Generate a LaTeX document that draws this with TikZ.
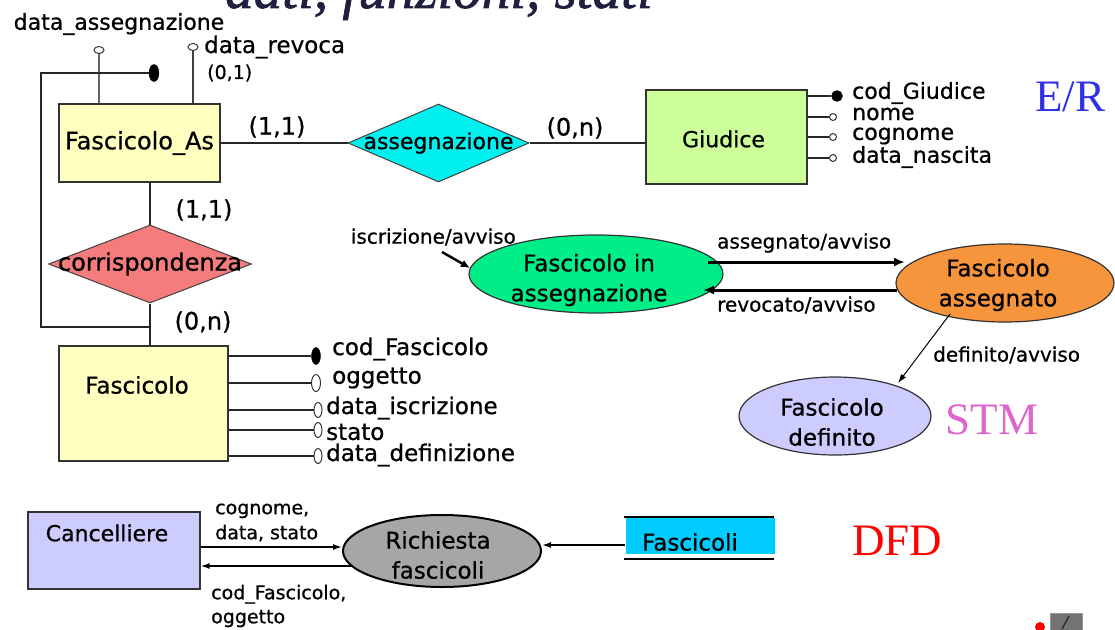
\documentclass[tikz,border=0pt]{standalone}
\usepackage{fontspec}
\setmainfont{DejaVu Sans}[FakeBold=0.7]
\newfontfamily\bigserif{Liberation Serif}
\newfontfamily\titleserif{Liberation Serif Italic}[FakeBold=1.2]
\usetikzlibrary{shapes.geometric,arrows.meta}
\newcommand\fsz[2]{\fontsize{#1}{#2}\selectfont}
\definecolor{yel}{HTML}{FFFFBF}
\definecolor{grn}{HTML}{CCFF99}
\definecolor{cyanER}{HTML}{00F0F0}
\definecolor{salmon}{HTML}{F47C7C}
\definecolor{stgreen}{HTML}{00EE88}
\definecolor{orng}{HTML}{F7953C}
\definecolor{lav}{HTML}{CCCCFF}
\definecolor{dfdgray}{HTML}{A6A6A6}
\definecolor{storecyan}{HTML}{00CCFF}
\definecolor{erblue}{HTML}{3030E6}
\definecolor{stmpink}{HTML}{DD66CC}
\definecolor{titlecol}{HTML}{1F1F3F}
\begin{document}
\begin{tikzpicture}[x=1pt,y=-1pt,
  box/.style={draw=black!80,line width=1.3pt,rectangle,inner sep=0pt},
  dia/.style={diamond,draw=black!75,line width=1pt,inner sep=0pt},
  ell/.style={ellipse,draw=black!80,line width=1.2pt,inner sep=0pt},
  lbl/.style={inner sep=0pt,font=\fsz{22}{22}},
  card/.style={inner sep=0pt,font=\fsz{24}{24}},
  erl/.style={line width=1.3pt,draw=black!85},
  attro/.style={ellipse,draw=black!80,fill=white,line width=1pt,inner sep=0pt},
  attrf/.style={ellipse,fill=black,draw=black,inner sep=0pt},
  thickarr/.style={line width=3pt,-{Latex[length=11pt,width=9pt]}},
  thinarr/.style={line width=1pt,-{Latex[length=9pt,width=6pt]}},
  dfdarr/.style={line width=1.5pt,-{Latex[length=9pt,width=6pt]}},
  bigtxt/.style={inner sep=0pt,font=\bigserif\fsz{45}{45}}
]
\useasboundingbox (0,0) rectangle (1115,629);

% title (cut at top)
\node[anchor=base west,inner sep=0pt,font=\titleserif\fsz{57}{57},text=titlecol] (title) at (225,8) {dati, funzioni, stati};

% ===== E/R =====
\node[box,fill=yel,minimum width=161pt,minimum height=78pt,
  label={[card]center:Fascicolo\_As}] (FA) at (139.5,143) {};
\node[dia,fill=cyanER,minimum width=181pt,minimum height=78pt,
  label={[lbl]center:assegnazione}] (AS) at (438.5,143) {};
\node[box,fill=grn,minimum width=161pt,minimum height=94pt,
  label={[lbl,xshift=-3pt,yshift=-2pt]center:Giudice}] (GI) at (726.5,137) {};
\node[dia,fill=salmon,minimum width=203pt,minimum height=78pt,
  label={[card]center:corrispondenza}] (CO) at (150,264) {};
\node[box,fill=yel,minimum width=169pt,minimum height=115pt] (FS) at (143.5,403.5) {};
\node[lbl,font=\fsz{23}{23}] (FSt) at (137,385) {Fascicolo};

\draw[erl] (FA.east) -- (AS.west);
\draw[erl] (AS.east) -- (AS.east -| GI.west);
\draw[erl] (CO.north |- FA.south) -- (CO.north);
\draw[erl] (CO.south) -- (CO.south |- FS.north);

\node[card] (c1) at (277,127) {(1,1)};
\node[card] (c2) at (575,128) {(0,n)};
\node[card] (c3) at (204,210) {(1,1)};
\node[card] (c4) at (203,322) {(0,n)};

% Fascicolo_As attributes
\node[attro,minimum width=10pt,minimum height=7pt] (aDA) at (99,50) {};
\draw[erl,draw=black!60] (aDA) -- (aDA |- FA.north);
\node[lbl] (tDA) at (119,24) {data\_assegnazione};
\node[attro,minimum width=10pt,minimum height=7pt] (aDR) at (193,47) {};
\draw[erl,draw=black!75] (aDR) -- (aDR |- FA.north);
\node[lbl,anchor=west,font=\fsz{23}{23}] (tDR) at (204,47) {data\_revoca};
\node[inner sep=0pt,anchor=west,font=\fsz{19}{19}] (c5) at (207,73) {(0,1)};

% external identifier
\node[attrf,minimum width=10pt,minimum height=17pt] (IDd) at (154,73) {};
\coordinate (idk) at (41,73);
\coordinate (idj) at (150,327);
\draw[erl] (IDd.west) -- (idk) |- (idj);

% Fascicolo attributes
\node[attrf,minimum width=9pt,minimum height=17pt] (f1) at (316,356) {};
\node[attro,minimum width=9pt,minimum height=17pt] (f2) at (316,383) {};
\node[attro,minimum width=8pt,minimum height=15pt] (f3) at (318,410) {};
\node[attro,minimum width=8pt,minimum height=15pt] (f4) at (318,430) {};
\node[attro,minimum width=8pt,minimum height=15pt] (f5) at (318,456) {};
\foreach \n in {f1,f2,f3,f4,f5}{\draw[erl] (FS.east |- \n) -- (\n.west);}
\node[lbl,anchor=west,font=\fsz{23}{23}] (tf1) at (332,349) {cod\_Fascicolo};
\node[lbl,anchor=west,font=\fsz{23}{23}] (tf2) at (332,378) {oggetto};
\node[lbl,anchor=west,font=\fsz{23}{23}] (tf3) at (326,408) {data\_iscrizione};
\node[lbl,anchor=west,font=\fsz{23}{23}] (tf4) at (326,432) {stato};
\node[lbl,anchor=west,font=\fsz{23}{23}] (tf5) at (326,455) {data\_definizione};

% Giudice attributes
\node[attrf,circle,minimum size=11pt] (g1) at (837,96) {};
\node[attro,circle,minimum size=7pt] (g2) at (833,117) {};
\node[attro,circle,minimum size=7pt] (g3) at (833,137) {};
\node[attro,circle,minimum size=7pt] (g4) at (833,158) {};
\foreach \n in {g1,g2,g3,g4}{\draw[erl] (GI.east |- \n) -- (\n.west);}
\node[lbl,anchor=west] (tg1) at (852,93) {cod\_Giudice};
\node[lbl,anchor=west] (tg2) at (852,114) {nome};
\node[lbl,anchor=west] (tg3) at (852,136) {cognome};
\node[lbl,anchor=west] (tg4) at (852,157) {data\_nascita};

\node[bigtxt,text=erblue] (ER) at (1070,97) {E/R};

% ===== STM =====
\node[ell,fill=stgreen,minimum width=254pt,minimum height=78pt,
  label={[inner sep=0pt,align=center,font=\fsz{23}{30},xshift=-7pt,yshift=-6pt]center:Fascicolo in\\assegnazione}] (SI) at (596,274) {};
\node[ell,fill=orng,minimum width=218pt,minimum height=78pt,
  label={[inner sep=0pt,align=center,font=\fsz{23}{30},xshift=-7pt,yshift=-2pt]center:Fascicolo\\assegnato}] (SA) at (1005,283) {};
\node[ell,fill=lav,minimum width=192pt,minimum height=78pt,
  label={[inner sep=0pt,align=center,font=\fsz{23}{30},xshift=-3pt,yshift=-6pt]center:Fascicolo\\definito}] (SD) at (835,416) {};

\coordinate (p1) at (708,262); \coordinate (p2) at (905,262);
\coordinate (p3) at (897,290); \coordinate (p4) at (703,290);
\coordinate (p5) at (950,314); \coordinate (p6) at (898,383);
\coordinate (p7) at (442,252); \coordinate (p8) at (470,268);
\draw[thickarr] (p1) -- (p2);
\draw[thickarr] (p3) -- (p4);
\draw[thinarr] (p5) -- (p6);
\draw[line width=2.5pt,-{Latex[length=9pt,width=8pt]}] (p7) -- (p8);

\node[inner sep=0pt,anchor=west,font=\fsz{20}{20}] (l1) at (717,243) {assegnato/avviso};
\node[inner sep=0pt,anchor=west,font=\fsz{20}{20}] (l2) at (717,305) {revocato/avviso};
\node[inner sep=0pt,anchor=west,font=\fsz{20}{20}] (l3) at (933,355) {definito/avviso};
\node[inner sep=0pt,anchor=east,font=\fsz{20}{20}] (l4) at (516,237) {iscrizione/avviso};

\node[bigtxt,text=stmpink] (STM) at (992,420) {STM};

% ===== DFD =====
\node[box,fill=lav,minimum width=172pt,minimum height=77pt] (CA) at (114,550.5) {};
\node[lbl,font=\fsz{22}{22}] (CAt) at (107,533) {Cancelliere};
\node[ellipse,draw=black,line width=2pt,inner sep=0pt,fill=dfdgray,minimum width=198pt,minimum height=72pt,
  label={[inner sep=0pt,align=center,font=\fsz{23}{30},xshift=-4pt,yshift=-4pt]center:Richiesta\\fascicoli}] (RF) at (442,551) {};
\coordinate (q1) at (342,547);
\coordinate (q2) at (353,566);
\draw[dfdarr] (CA.east |- q1) -- (q1);
\draw[dfdarr] (q2) -- (q2 -| CA.east);
\node[inner sep=0pt,anchor=west,align=left,font=\fsz{19}{25}] (d1) at (215,522.5) {cognome,\\data, stato};
\node[inner sep=0pt,anchor=west,align=left,font=\fsz{19}{24}] (d2) at (211,606) {cod\_Fascicolo,\\oggetto};

\node[rectangle,fill=storecyan,inner sep=0pt,minimum width=149pt,minimum height=36pt] (ST) at (700.5,536) {};
\node[lbl,font=\fsz{23}{23}] (STt) at (690,542) {Fascicoli};
\coordinate (s1) at (624,517); \coordinate (s2) at (774,517);
\coordinate (s3) at (624,559); \coordinate (s4) at (774,559);
\draw[line width=1.5pt] (s1) -- (s2);
\draw[line width=1.5pt] (s3) -- (s4);
\coordinate (q5) at (625,545);
\draw[dfdarr] (q5) -- (q5 -| RF.east);

\node[bigtxt,text=red] (DFD) at (897,541) {DFD};

% slide corner artifact
\fill[red] (1040,627) circle (5pt);
\draw[black!40,fill=black!55] (1050,613) rectangle (1082,632);
\draw[black!85,line width=1.2pt] (1062,629) -- (1069,616);
\end{tikzpicture}
\end{document}
